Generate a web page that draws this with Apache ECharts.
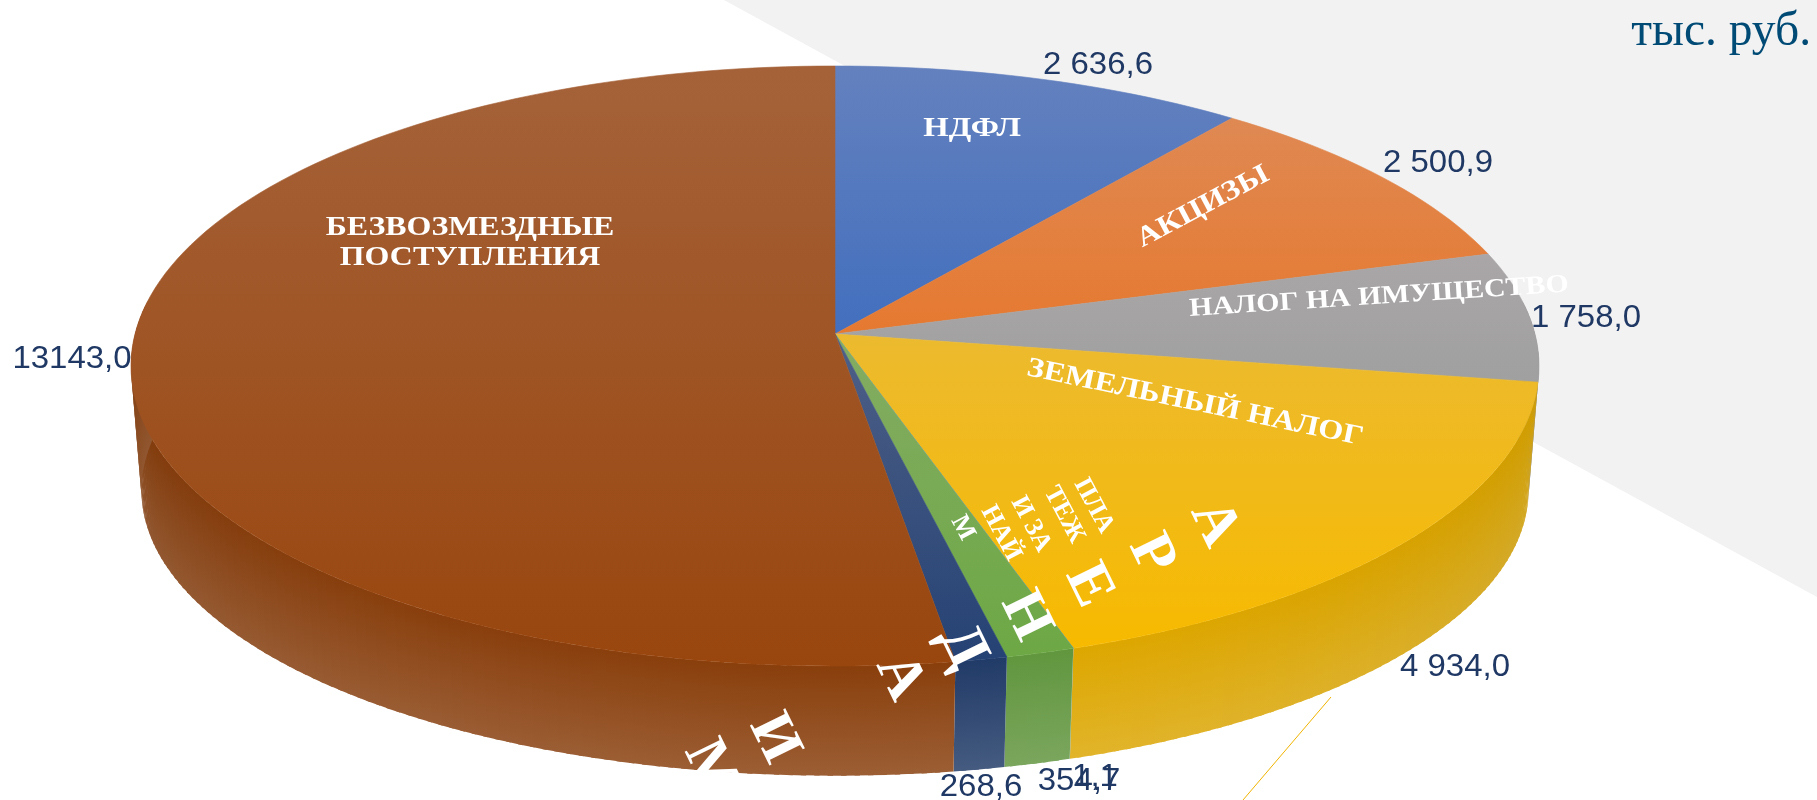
<!DOCTYPE html>
<html>
<head>
<meta charset="utf-8">
<style>
  html, body { margin: 0; padding: 0; background: #fff; }
  #chart { width: 1817px; height: 800px; }
</style>
<script src="https://cdn.jsdelivr.net/npm/echarts@6/dist/echarts.min.js"></script>
</head>
<body>
<div id="chart"></div>
<script>
const categories = ['НДФЛ', 'АКЦИЗЫ', 'НАЛОГ НА ИМУЩЕСТВО', 'ЗЕМЕЛЬНЫЙ НАЛОГ', 'ПРОЧИЕ', 'ПЛАТЕЖИ ЗА НАЙМ', 'АРЕНДА ИМУЩЕСТВА', 'БЕЗВОЗМЕЗДНЫЕ ПОСТУПЛЕНИЯ'];
const values = [2636.6, 2500.9, 1758.0, 4934.0, 1.1, 354.7, 268.6, 13143.0];
const valueLabels = ['2 636,6', '2 500,9', '1 758,0', '4 934,0', '1,1', '354,7', '268,6', '13143,0'];
const colors = ['#4472C4', '#ED7D31', '#A5A5A5', '#FFC000', '#5B9BD5', '#70AD47', '#264478', '#9E480E'];

// top and bottom discs of the fake 3d pie, perspective = how much the front is pulled toward the viewer
const topDisc = {cx: 835, cy: 334, rx: 700, ry: 296.6};
const bottomDisc = {cx: 835, cy: 460, rx: 689.6, ry: 282};
const perspective = 0.1067;

// The slices in the reference do not quite follow their own labels (the yellow one
// is drawn narrower than 4 934,0 should be), so angles are bent a little to match it.
const angleBend = [[0, 0], [97, 2.2], [166, -4.2], [360, 0]];

const total = values.reduce((a, b) => a + b, 0);
const cumulative = [0];
values.forEach((v, i) => cumulative.push(cumulative[i] + v / total * 360));

function bend(deg) {
  for (let i = 1; i < angleBend.length; i++) {
    const [a0, b0] = angleBend[i - 1];
    const [a1, b1] = angleBend[i];
    if (deg <= a1) return deg + b0 + (b1 - b0) * (deg - a0) / (a1 - a0);
  }
  return deg;
}

function project(disc, deg) {
  const t = deg * Math.PI / 180;
  const u = Math.sin(t);
  const v = -Math.cos(t);
  const w = 1 - perspective * v;
  return [disc.cx + disc.rx * u / w, disc.cy + disc.ry * v / w];
}

function arcAngles(i, step) {
  const from = bend(cumulative[i]);
  const to = bend(cumulative[i + 1]);
  const n = Math.max(1, Math.ceil((to - from) / step));
  const out = [];
  for (let k = 0; k <= n; k++) out.push(from + (to - from) * k / n);
  return out;
}

function rgb(hex) {
  return [1, 3, 5].map(p => parseInt(hex.substr(p, 2), 16));
}
function mix(c, other, amount) {
  return c.map((x, i) => x * (1 - amount) + other[i] * amount);
}
function css(c) {
  return 'rgb(' + c.map(Math.round).join(',') + ')';
}
function scale(c, f) {
  return c.map(x => x * f);
}

function renderWall(params, api) {
  const i = params.dataIndex;
  const base = rgb(colors[i]);
  const angles = arcAngles(i, 1);
  const last = bend(cumulative[i + 1]);
  const children = [];
  for (let k = 0; k < angles.length - 1; k++) {
    const a0 = angles[k];
    const a1 = angles[k + 1];
    if (-Math.cos(a0 * Math.PI / 180) < -0.1 && -Math.cos(a1 * Math.PI / 180) < -0.1) continue;
    const edge = Math.pow(Math.abs(Math.sin((a0 + a1) / 2 * Math.PI / 180)), 3);
    const dim = 1 - 0.07 * edge;
    const fill = {
      type: 'linear', x: 0, y: 0, x2: 0, y2: 1,
      colorStops: [
        {offset: 0, color: css(scale(scale(base, 0.87), dim))},
        {offset: 1, color: css(scale(mix(base, [150, 150, 150], 0.28), dim))}
      ]
    };
    // run a bit into the next strip so no seam shows, but stay inside the slice
    const a2 = Math.min(a1 + 0.4, last);
    children.push({
      type: 'polygon',
      shape: {points: [project(topDisc, a0), project(topDisc, a2), project(bottomDisc, a2), project(bottomDisc, a0)]},
      style: {fill: fill}
    });
  }
  return {type: 'group', children: children};
}

function renderTop(params, api) {
  const i = params.dataIndex;
  const base = rgb(colors[i]);
  const points = [[topDisc.cx, topDisc.cy]];
  arcAngles(i, 1.5).forEach(a => points.push(project(topDisc, a)));
  // each slice has its own vertical gradient, pale at its top
  const fill = {
    type: 'linear', x: 0, y: 0, x2: 0, y2: 1,
    colorStops: [
      {offset: 0, color: css(mix(base, [185, 170, 175], 0.27))},
      {offset: 1, color: css(scale(base, 0.97))}
    ]
  };
  return {
    type: 'polygon',
    shape: {points: points},
    style: {fill: fill, stroke: fill, lineWidth: 0.6}
  };
}

function valueText(text, x, y) {
  return {
    type: 'text', x: x, y: y, z: 12, silent: true, scaleX: 1.03,
    style: {text: text, x: 0, y: 0, align: 'center', verticalAlign: 'middle', font: '32px "Liberation Sans"', fill: '#1f3864'}
  };
}

function nameText(text, x, y, rot, size, sx) {
  return {
    type: 'text', x: x, y: y, z: 11, silent: true,
    rotation: rot * Math.PI / 180, scaleX: sx || 1,
    style: {text: text, x: 0, y: 0, align: 'center', verticalAlign: 'middle', font: 'bold ' + size + 'px "Liberation Serif"', fill: '#fff', lineHeight: size + 2}
  };
}

function stackedLine(text, x, y) {
  return {
    type: 'text', x: x, y: y, z: 11, silent: true, rotation: -62 * Math.PI / 180,
    style: {text: text, x: 0, y: 0, align: 'left', verticalAlign: 'middle', font: 'bold 26px "Liberation Serif"', fill: '#fff'}
  };
}

const chart = echarts.init(document.getElementById('chart'));
chart.setOption({
  backgroundColor: '#fff',
  animation: false,
  graphic: [
    {type: 'polygon', z: -1, silent: true, shape: {points: [[724, 0], [1817, 0], [1817, 597]]}, style: {fill: '#f2f2f2'}},
    {type: 'line', z: 5, silent: true, shape: {x1: 1331, y1: 697, x2: 1243, y2: 800}, style: {stroke: '#f0b400', lineWidth: 1}},

    valueText(valueLabels[0], 1098, 65),
    valueText(valueLabels[1], 1438, 163),
    valueText(valueLabels[2], 1586, 318),
    valueText(valueLabels[3], 1455, 667),
    valueText(valueLabels[4], 1095, 777),
    valueText(valueLabels[5], 1079, 781),
    valueText(valueLabels[6], 981, 787),
    valueText(valueLabels[7], 72, 359),

    nameText(categories[0], 972, 129, 0, 28, 1.17),
    nameText(categories[1], 1203, 207, 28, 28, 1.15),
    nameText(categories[2], 1379, 297, 3.7, 26, 1.15),
    nameText(categories[3], 1195, 403, -11.8, 28, 1.15),
    nameText('БЕЗВОЗМЕЗДНЫЕ\nПОСТУПЛЕНИЯ', 470, 243, 0, 28, 1.14),

    stackedLine('ПЛА', 1080, 480),
    stackedLine('ТЕЖ', 1050, 488),
    stackedLine('И ЗА', 1017, 498),
    stackedLine('НАЙ', 987, 507),
    stackedLine('М', 957, 517),

    {
      type: 'text', x: 1214, y: 524, z: 11, silent: true, rotation: -64 * Math.PI / 180,
      style: {text: 'А\nР\nЕ\nН\nД\nА\n \nИ\nМ\nУ\nЩ', x: 0, y: -35, align: 'center', verticalAlign: 'top', font: 'bold 60px "Liberation Serif"', fill: '#fff', lineHeight: 70}
    },

    {
      type: 'text', x: 1811, y: 33, z: 12, silent: true,
      style: {text: 'тыс. руб.', x: 0, y: 0, align: 'right', verticalAlign: 'middle', font: '47.5px "Liberation Serif"', fill: '#004b76'}
    }
  ],
  series: [
    {
      type: 'custom', coordinateSystem: 'none', z: 2, silent: true,
      renderItem: renderWall,
      data: values
    },
    {
      type: 'custom', coordinateSystem: 'none', z: 3, silent: true,
      renderItem: renderTop,
      data: values
    }
  ]
});
</script>
</body>
</html>
